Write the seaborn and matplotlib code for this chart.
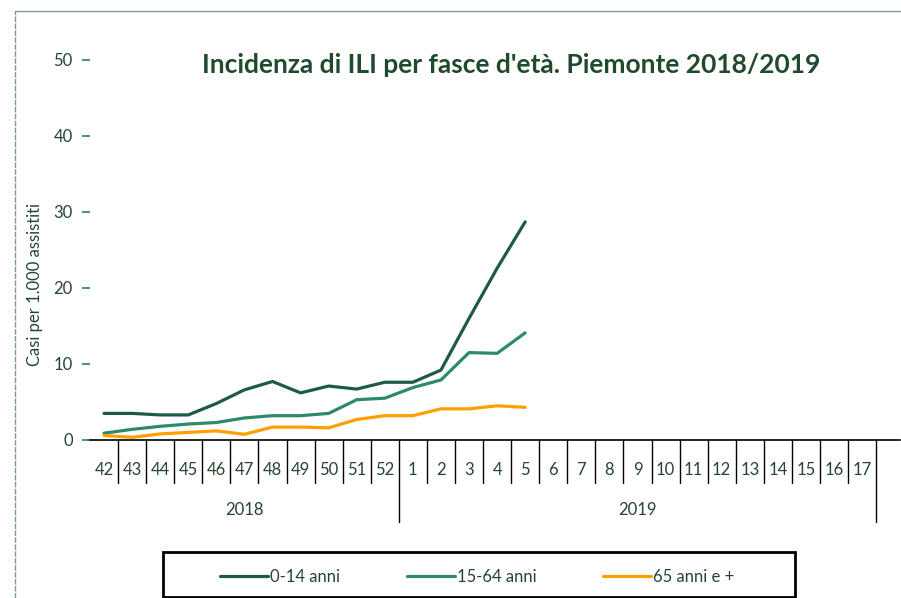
import matplotlib
matplotlib.use("Agg")
import matplotlib.pyplot as plt
from matplotlib.lines import Line2D
from matplotlib.patches import Rectangle
import matplotlib.transforms as mtransforms
import seaborn as sns
import pandas as pd

# ---- data ----
settimane = ["42", "43", "44", "45", "46", "47", "48", "49", "50", "51", "52",
             "1", "2", "3", "4", "5", "6", "7", "8", "9", "10", "11", "12",
             "13", "14", "15", "16", "17"]
anni = ["2018", "2019"]
settimane_per_anno = [11, 17]
fasce = ["0-14 anni", "15-64 anni", "65 anni e +"]
inc_0_14 = [3.5, 3.5, 3.3, 3.3, 4.8, 6.6, 7.7, 6.2, 7.1, 6.7, 7.6, 7.6, 9.2, 16.0, 22.6, 28.7]
inc_15_64 = [0.9, 1.4, 1.8, 2.1, 2.3, 2.9, 3.2, 3.2, 3.5, 5.3, 5.5, 6.9, 7.9, 11.5, 11.4, 14.1]
inc_65 = [0.6, 0.35, 0.8, 1.0, 1.2, 0.75, 1.7, 1.7, 1.6, 2.7, 3.2, 3.2, 4.1, 4.1, 4.5, 4.3]
y_ticks = [0, 10, 20, 30, 40, 50]

colori = ["#1f5a44", "#2e8a6a", "#ffa000"]
testo = "#25452f"
W, H = 901, 598

sns.set_theme(style="white")
plt.rcParams["font.family"] = ["Lato", "DejaVu Sans"]

fig = plt.figure(figsize=(W / 100, H / 100), dpi=100)
ax = fig.add_axes([90 / W, 1 - 440 / H, 810 / W, 380 / H])

for nome, serie, col in zip(fasce, [inc_0_14, inc_15_64, inc_65], colori):
    df = pd.DataFrame({"pos": list(range(len(serie))), "val": serie})
    sns.lineplot(data=df, x="pos", y="val", ax=ax, color=col, linewidth=2.3,
                 label=nome, legend=False)

ax.set_xlim(-0.5, 28.35)
ax.set_ylim(0, 50)
ax.set_xlabel("")
ax.set_ylabel("")
for s in ["top", "right", "left"]:
    ax.spines[s].set_visible(False)
ax.spines["bottom"].set_color("black")
ax.spines["bottom"].set_linewidth(1.2)

ax.set_yticks(y_ticks)
ax.set_yticklabels([str(v) for v in y_ticks], color=testo, fontsize=12)
ax.tick_params(axis="y", direction="out", length=5.5, width=1.3, color="#3a8a6f", pad=7, left=True)

ax.set_xticks(range(len(settimane)))
ax.set_xticklabels(settimane, color=testo, fontsize=12)
ax.tick_params(axis="x", length=0, pad=16)

# category separators
trans = mtransforms.blended_transform_factory(ax.transData, ax.transAxes)
bordi_anno = []
acc = 0
for n in settimane_per_anno:
    acc += n
    bordi_anno.append(acc - 0.5)
for i in range(1, len(settimane) + 1):
    xb = i - 0.5
    y1 = -0.216 if xb in bordi_anno else -0.113
    ax.add_line(Line2D([xb, xb], [0, y1], transform=trans, color="black",
                       lw=1.0, clip_on=False))

# year labels
start = 0
for anno, n in zip(anni, settimane_per_anno):
    centro = start + (n - 1) / 2
    ax.text(centro, -0.184, anno, transform=trans, ha="center", va="center",
            color=testo, fontsize=12)
    start += n

# title and y label
fig.text(511 / W, 1 - 65 / H, "Incidenza di ILI per fasce d'età. Piemonte 2018/2019",
         ha="center", va="center", fontsize=19, fontweight="bold", color="#1f4a2e")
fig.text(35 / W, 1 - 284 / H, "Casi per 1.000 assistiti", rotation=90,
         ha="center", va="center", fontsize=12, color=testo)

# chart border (top and left)
fig.add_artist(Line2D([15 / W, 1], [1 - 11 / H, 1 - 11 / H], transform=fig.transFigure,
                      color="#7f9a90", lw=1.0))
fig.add_artist(Line2D([15 / W, 15 / W], [0, 1 - 11 / H], transform=fig.transFigure,
                      color="#7f9a90", lw=1.0, ls=(0, (4, 1))))

# legend
handles, labels = ax.get_legend_handles_labels()
fig.legend(handles, labels, ncol=3, frameon=False, loc="center left",
           bbox_to_anchor=(205 / W, 1 - 577 / H), fontsize=12, handlelength=2.9,
           handletextpad=0.1, columnspacing=4.0, labelcolor=testo)
fig.add_artist(Rectangle((163 / W, 1 - 597 / H), (795 - 163) / W, 45 / H,
                         transform=fig.transFigure, fill=False, edgecolor="black", lw=2))

fig.savefig("out.png", dpi=100)
